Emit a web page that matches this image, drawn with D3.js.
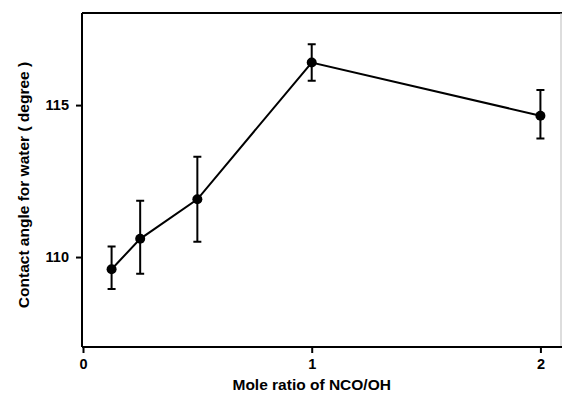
<!DOCTYPE html>
<html>
<head>
<meta charset="utf-8">
<script src="https://cdn.jsdelivr.net/npm/d3@7"></script>
<style>
  body { margin: 0; background: #fff; }
  text { font-family: "Liberation Sans", Arial, sans-serif; font-weight: bold; fill: #000; }
</style>
</head>
<body>
<div id="chart"></div>
<script>
(function() {
    var width = 562;
    var height = 407;

    // data
    var ratios = [0.125, 0.25, 0.5, 1, 2];
    var angles = [109.6, 110.6, 111.9, 116.4, 114.65];
    var upper = [110.35, 111.85, 113.3, 117.0, 115.5];
    var lower = [108.95, 109.45, 110.5, 115.8, 113.9];
    var xTicks = [0, 1, 2];
    var yTicks = [110, 115];

    var margin = {left: 82, top: 13, right: 1, bottom: 60};

    var svg = d3.select("#chart").append("svg")
        .attr("width", width)
        .attr("height", height);

    var x = d3.scaleLinear()
        .domain([0, 2.09])
        .range([margin.left + 1, width - margin.right]);

    var y = d3.scaleLinear()
        .domain([107.04, 118.03])
        .range([height - margin.bottom, margin.top]);

    var data = ratios.map(function(r, i) {
        return {x: r, y: angles[i], hi: upper[i], lo: lower[i]};
    });

    // frame: top and right lines
    svg.append("line")
        .attr("x1", margin.left).attr("x2", width)
        .attr("y1", y(118.03)).attr("y2", y(118.03))
        .attr("stroke", "#000").attr("stroke-width", 2);
    svg.append("line")
        .attr("x1", width - 1).attr("x2", width - 1)
        .attr("y1", y(118.03)).attr("y2", y(107.04))
        .attr("stroke", "#bbb").attr("stroke-width", 1);

    var xAxis = svg.append("g")
        .attr("transform", "translate(0," + y(107.04) + ")")
        .call(d3.axisBottom(x).tickValues(xTicks).tickFormat(d3.format("d")).tickSize(6).tickPadding(6));

    var yAxis = svg.append("g")
        .attr("transform", "translate(" + margin.left + ",0)")
        .call(d3.axisLeft(y).tickValues(yTicks).tickSize(6).tickPadding(7));

    [xAxis, yAxis].forEach(function(g) {
        g.select(".domain").attr("stroke-width", 2);
        g.selectAll(".tick line").attr("stroke-width", 2);
        g.selectAll(".tick text").style("font-size", "14.5px");
    });
    yAxis.select(".domain").attr("d", "M0," + y(107.04) + "V" + y(118.03));
    xAxis.select(".domain").attr("d", "M" + margin.left + ",0H" + width);

    // axis titles
    svg.append("text")
        .attr("x", x(1))
        .attr("y", 390)
        .attr("text-anchor", "middle")
        .style("font-size", "15.5px")
        .text("Mole ratio of NCO/OH");

    svg.append("text")
        .attr("transform", "translate(29," + 185 + ") rotate(-90)")
        .attr("text-anchor", "middle")
        .style("font-size", "15.5px")
        .text("Contact angle for water ( degree )");

    // error bars
    var bars = svg.append("g").attr("stroke", "#000").attr("stroke-width", 2);
    bars.selectAll(".err").data(data).enter().append("path")
        .attr("class", "err")
        .attr("fill", "none")
        .attr("d", function(d) {
            var cx = x(d.x);
            return "M" + cx + "," + y(d.lo) + "V" + y(d.hi) +
                "M" + (cx - 4) + "," + y(d.hi) + "H" + (cx + 4) +
                "M" + (cx - 4) + "," + y(d.lo) + "H" + (cx + 4);
        });

    var line = d3.line()
        .x(function(d) { return x(d.x); })
        .y(function(d) { return y(d.y); });

    svg.append("path")
        .datum(data)
        .attr("fill", "none")
        .attr("stroke", "#000")
        .attr("stroke-width", 2)
        .attr("d", line);

    svg.selectAll(".pt").data(data).enter().append("circle")
        .attr("class", "pt")
        .attr("cx", function(d) { return x(d.x); })
        .attr("cy", function(d) { return y(d.y); })
        .attr("r", 5)
        .attr("fill", "#000");
})();
</script>
</body>
</html>
